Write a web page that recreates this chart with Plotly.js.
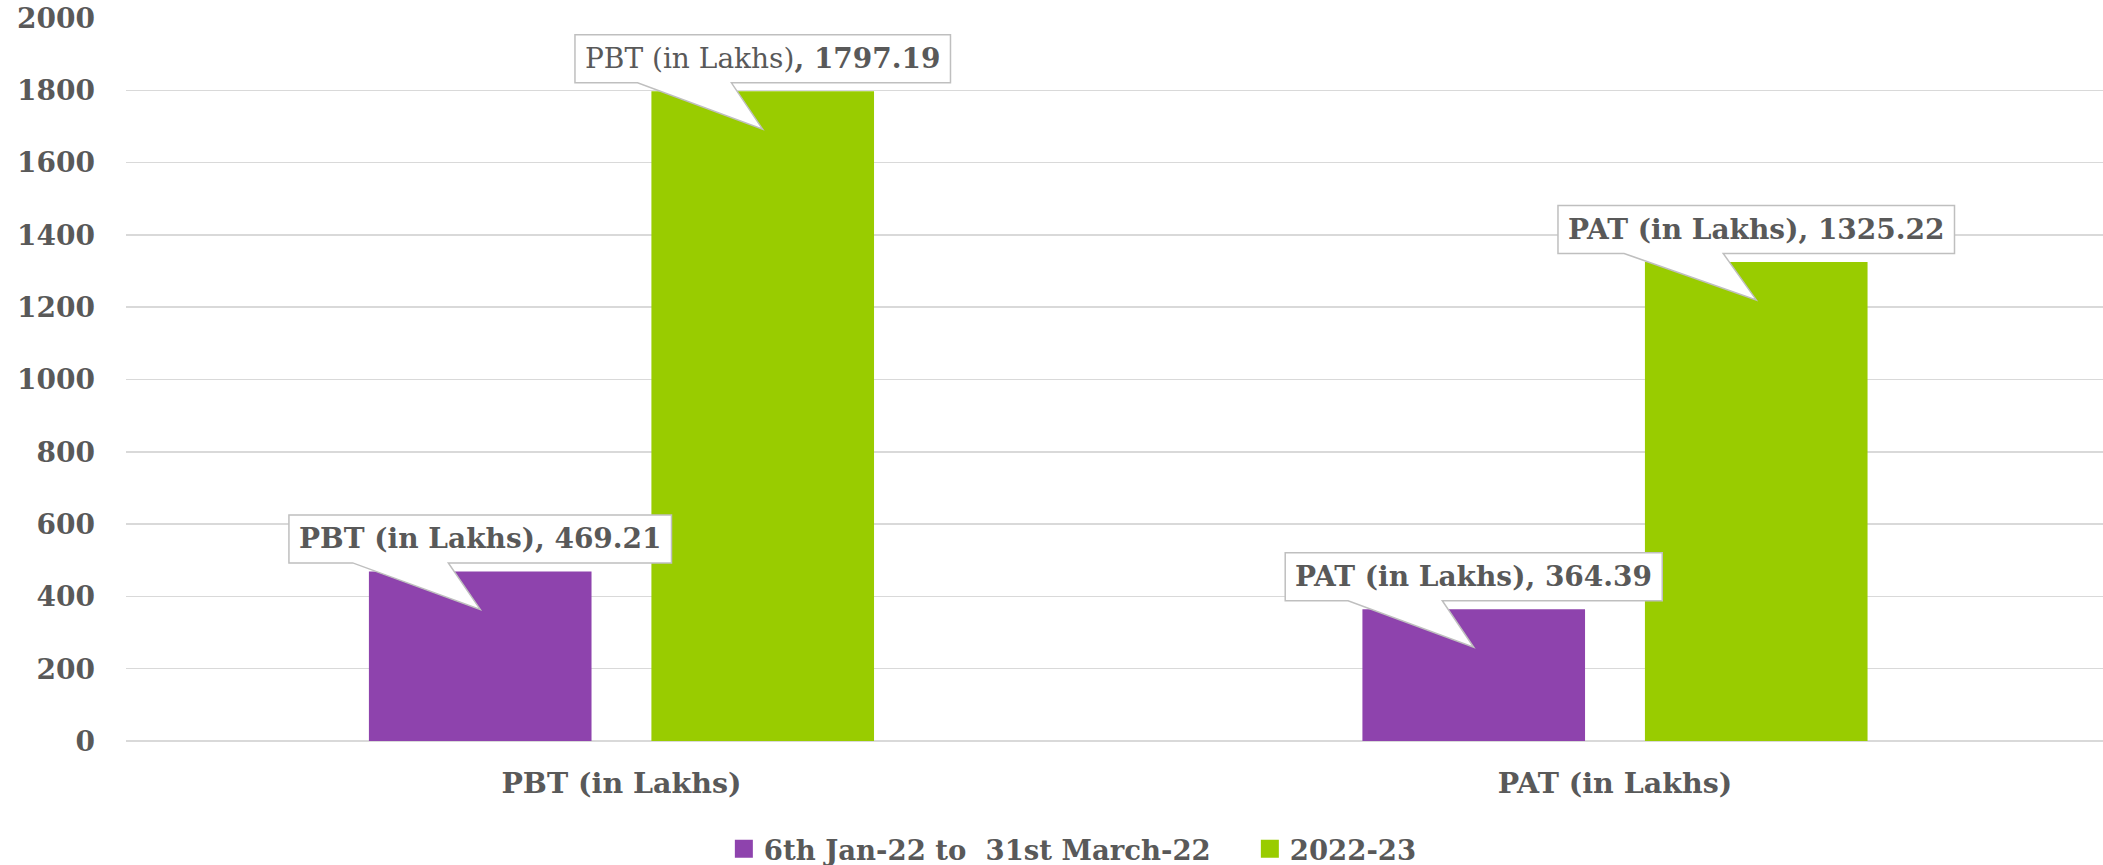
<!DOCTYPE html>
<html><head><meta charset="utf-8">
<script src="https://cdn.plot.ly/plotly-3.0.1.min.js"></script>
<style>html,body{margin:0;padding:0;background:#fff;}#chart{width:2103px;height:865px;}</style>
</head><body><div id="chart"></div>
<script>
// ---- data ----
const categories = ['PBT (in Lakhs)', 'PAT (in Lakhs)'];
const seriesNames = ['6th Jan-22 to \u00a031st March-22', '2022-23'];
const valuesPeriod = [469.21, 364.39];
const valuesFY = [1797.19, 1325.22];
const yTickVals = [0, 200, 400, 600, 800, 1000, 1200, 1400, 1600, 1800, 2000];

// ---- style ----
const FONT = '"DejaVu Serif", "Liberation Serif", serif';
const TXT = '#595959';
const COLORS = ['#8e43ad', '#99cc00'];
const BARGAP = 0.4313, BARGROUPGAP = 0.212;
const FS_LABEL = 28, FS_Y = 28, FS_X = 28.5, FS_LEG = 27.5;
// whether the category name part of each data label is bold [series][category]
const nameBold = [[true, true], [false, true]];

const canvas = document.createElement('canvas');
const ctx = canvas.getContext('2d');
function measure(s, bold) {
  ctx.font = (bold ? 'bold ' : '') + FS_LABEL + 'px ' + FONT;
  return ctx.measureText(s).width;
}

const allSeries = [valuesPeriod, valuesFY];
const traces = allSeries.map((vals, i) => ({
  type: 'bar', x: categories, y: vals, name: seriesNames[i],
  marker: {color: COLORS[i]}, hoverinfo: 'skip'
}));

const shapes = [], annotations = [];
const off = (1 - BARGAP) / 4;
allSeries.forEach((vals, s) => {
  vals.forEach((v, c) => {
    const xa = c + (s === 0 ? -off : off);
    const valStr = v.toFixed(2);
    const nb = nameBold[s][c];
    const w = measure(categories[c], nb) + measure(', ' + valStr, true);
    const hw = w / 2 + 10;
    const b = 8.5, t = b + 48, tip = -38;
    const wl = -hw + hw * 2 * 2 / 12, wr = -hw + hw * 2 * 5 / 12;
    const path = `M${-hw},${b} L${-hw},${t} L${hw},${t} L${hw},${b} L${wr},${b} L0,${tip} L${wl},${b} Z`;
    shapes.push({
      type: 'path', xref: 'x', yref: 'y', xsizemode: 'pixel', ysizemode: 'pixel',
      xanchor: xa, yanchor: v, path: path, fillcolor: '#ffffff',
      line: {color: '#bfbfbf', width: 1.5}, layer: 'above'
    });
    const name = nb ? '<b>' + categories[c] + '</b>' : categories[c];
    annotations.push({
      xref: 'x', yref: 'y', x: xa, y: v, yshift: b + 24, showarrow: false,
      xanchor: 'center', yanchor: 'middle',
      text: name + '<b>, ' + valStr + '</b>',
      font: {family: FONT, size: FS_LABEL, color: TXT, weight: 'normal'}
    });
  });
});

const layout = {
  width: 2103, height: 865,
  margin: {l: 126, r: 0, t: 18, b: 124, pad: 0, autoexpand: false},
  paper_bgcolor: '#ffffff', plot_bgcolor: '#ffffff',
  barmode: 'group', bargap: BARGAP, bargroupgap: BARGROUPGAP,
  showlegend: true,
  legend: {
    orientation: 'h', xref: 'container', yref: 'container',
    x: 0.3442, xanchor: 'left', y: 0.0185, yanchor: 'middle',
    entrywidth: 481, entrywidthmode: 'pixels',
    font: {family: FONT, size: FS_LEG, color: TXT, weight: 'bold'},
    bgcolor: 'rgba(0,0,0,0)'
  },
  xaxis: {
    type: 'category', range: [-0.4987, 1.4912],
    showgrid: false, zeroline: false, showline: false, ticks: '',
    tickfont: {family: FONT, size: FS_X, color: TXT, weight: 'bold'},
    ticklabelstandoff: 22, fixedrange: true
  },
  yaxis: {
    range: [0, 2000], tickvals: yTickVals, ticktext: yTickVals.map(String),
    showgrid: true, gridcolor: '#d9d9d9', gridwidth: 1.5,
    zeroline: true, zerolinecolor: '#d9d9d9', zerolinewidth: 1.5,
    showline: false, ticks: '', ticklabelstandoff: 30,
    tickfont: {family: FONT, size: FS_Y, color: TXT, weight: 'bold'}, fixedrange: true
  },
  shapes: shapes, annotations: annotations
};

Plotly.newPlot('chart', traces, layout, {staticPlot: true, displayModeBar: false}).then(gd => {
  // enlarge legend swatches to match the reference's larger squares
  gd.querySelectorAll('.legendpoints path').forEach(p => {
    const tr = p.getAttribute('transform') || '';
    p.setAttribute('transform', tr + ' scale(1.5)');
  });
});
</script>
</body></html>
